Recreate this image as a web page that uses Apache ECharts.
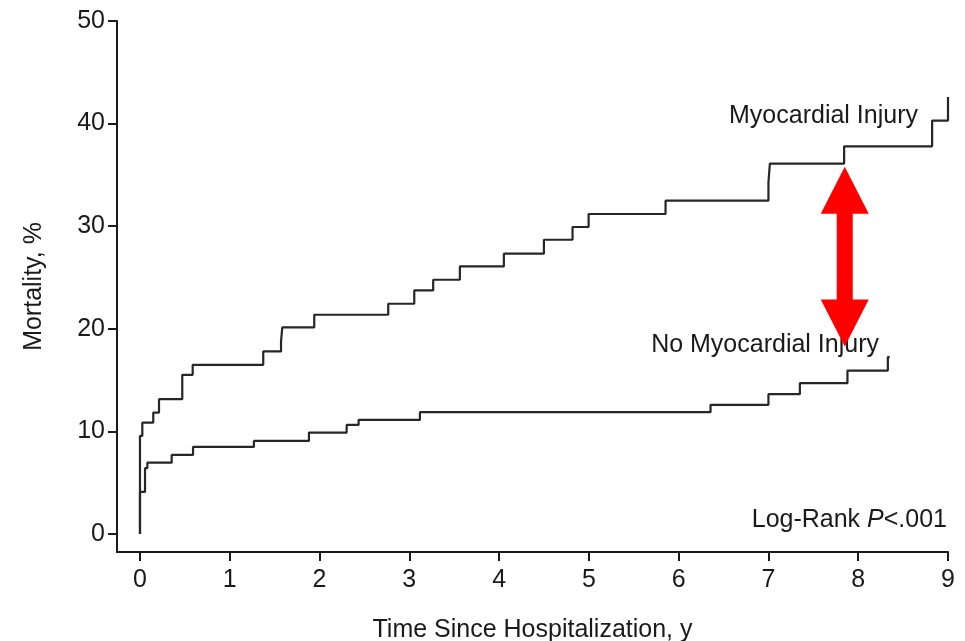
<!DOCTYPE html>
<html lang="en">
<head>
    <meta charset="UTF-8">
    <title>Mortality</title>
    <script src="https://cdn.jsdelivr.net/npm/echarts@6/dist/echarts.min.js"></script>
    <style>
        html, body {
            margin: 0;
            height: 100%;
            background: #fff;
        }
    </style>
</head>
<body>
<div id="main" style="width: 965px;height: 641px"></div>
<script>
    // time (years) and mortality (%)
    var injuryX = [0, 0, 0.026, 0.148, 0.212, 0.471, 0.587, 1.373, 1.571, 1.585, 1.941, 2.765, 3.055, 3.266,
        3.563, 4.053, 4.499, 4.818, 4.997, 5.854, 7.0, 7.016, 7.843, 8.823, 9.0];
    var injuryY = [0, 9.56, 10.86, 11.83, 13.14, 15.51, 16.49, 17.79, 18.76, 20.13, 21.37, 22.44, 23.74, 24.78,
        26.08, 27.32, 28.68, 29.92, 31.19, 32.49, 34.27, 36.1, 37.78, 40.29, 42.6];

    var noInjuryX = [0, 0, 0.056, 0.082, 0.353, 0.591, 1.269, 1.882, 2.302, 2.435, 3.118, 6.355, 7.0, 7.35,
        7.88, 8.33, 8.35];
    var noInjuryY = [0, 4.1, 6.41, 6.95, 7.71, 8.49, 9.07, 9.88, 10.63, 11.12, 11.87, 12.59, 13.63, 14.7,
        15.93, 17.24, 17.24];

    var xTicks = [0, 1, 2, 3, 4, 5, 6, 7, 8, 9];
    var yTicks = [0, 10, 20, 30, 40, 50];

    // red double arrow: [x, top, bottom]
    var arrowData = [[7.85, 35.8, 18.27]];

    function pairs(xs, ys) {
        var out = [];
        for (var i = 0; i < xs.length; i++) {
            out.push([xs[i], ys[i]]);
        }
        return out;
    }

    var font = 'Liberation Sans, Arial, sans-serif';
    var ink = '#1a1a1a';
    var fs = 25;

    var myChart = echarts.init(document.getElementById('main'));
    var option = {
        animation: false,
        backgroundColor: '#fff',
        grid: {left: 117, right: 17, top: 21, bottom: 89, containLabel: false, outerBoundsMode: 'none'},
        xAxis: {
            type: 'value',
            min: -0.256,
            max: 9,
            splitLine: {show: false},
            axisLine: {onZero: false, lineStyle: {color: ink, width: 2}},
            axisTick: {customValues: xTicks, length: 9, lineStyle: {color: ink, width: 2}},
            axisLabel: {customValues: xTicks, color: ink, fontFamily: font, fontSize: fs, margin: 16},
            name: 'Time Since Hospitalization, y',
            nameLocation: 'middle',
            nameGap: 66,
            nameTextStyle: {color: ink, fontFamily: font, fontSize: fs}
        },
        yAxis: {
            type: 'value',
            min: -1.756,
            max: 50,
            splitLine: {show: false},
            axisLine: {onZero: false, lineStyle: {color: ink, width: 2}},
            axisTick: {customValues: yTicks, length: 9, lineStyle: {color: ink, width: 2}},
            axisLabel: {customValues: yTicks, color: ink, fontFamily: font, fontSize: fs, margin: 12},
            name: 'Mortality, %',
            nameLocation: 'middle',
            nameGap: 70,
            nameTextStyle: {color: ink, fontFamily: font, fontSize: fs}
        },
        series: [
            {
                name: 'Myocardial Injury',
                type: 'line',
                step: 'end',
                symbol: 'none',
                lineStyle: {color: '#262626', width: 2.2},
                data: pairs(injuryX, injuryY)
            },
            {
                name: 'No Myocardial Injury',
                type: 'line',
                step: 'end',
                symbol: 'none',
                lineStyle: {color: '#262626', width: 2.2},
                data: pairs(noInjuryX, noInjuryY)
            },
            {
                type: 'custom',
                data: arrowData,
                z: 5,
                renderItem: function (params, api) {
                    var top = api.coord([api.value(0), api.value(1)]);
                    var bot = api.coord([api.value(0), api.value(2)]);
                    var cx = top[0], hw = 24, sw = 8, hl = 47;
                    return {
                        type: 'polygon',
                        shape: {
                            points: [
                                [cx, top[1]], [cx + hw, top[1] + hl], [cx + sw, top[1] + hl],
                                [cx + sw, bot[1] - hl], [cx + hw, bot[1] - hl], [cx, bot[1]],
                                [cx - hw, bot[1] - hl], [cx - sw, bot[1] - hl],
                                [cx - sw, top[1] + hl], [cx - hw, top[1] + hl]
                            ]
                        },
                        style: {fill: '#ff0000'}
                    };
                }
            }
        ],
        graphic: [
            {
                type: 'text', right: 47, top: 104,
                style: {text: 'Myocardial Injury', fill: ink, font: fs + 'px ' + font}
            },
            {
                type: 'text', right: 86, top: 333,
                style: {text: 'No Myocardial Injury', fill: ink, font: fs + 'px ' + font}
            },
            {
                type: 'text', right: 18, top: 508,
                style: {
                    text: '{a|Log-Rank }{b|P}{a|<.001}',
                    rich: {
                        a: {fill: ink, font: fs + 'px ' + font},
                        b: {fill: ink, font: 'italic ' + fs + 'px ' + font}
                    }
                }
            }
        ]
    };
    myChart.setOption(option);
</script>
</body>
</html>
